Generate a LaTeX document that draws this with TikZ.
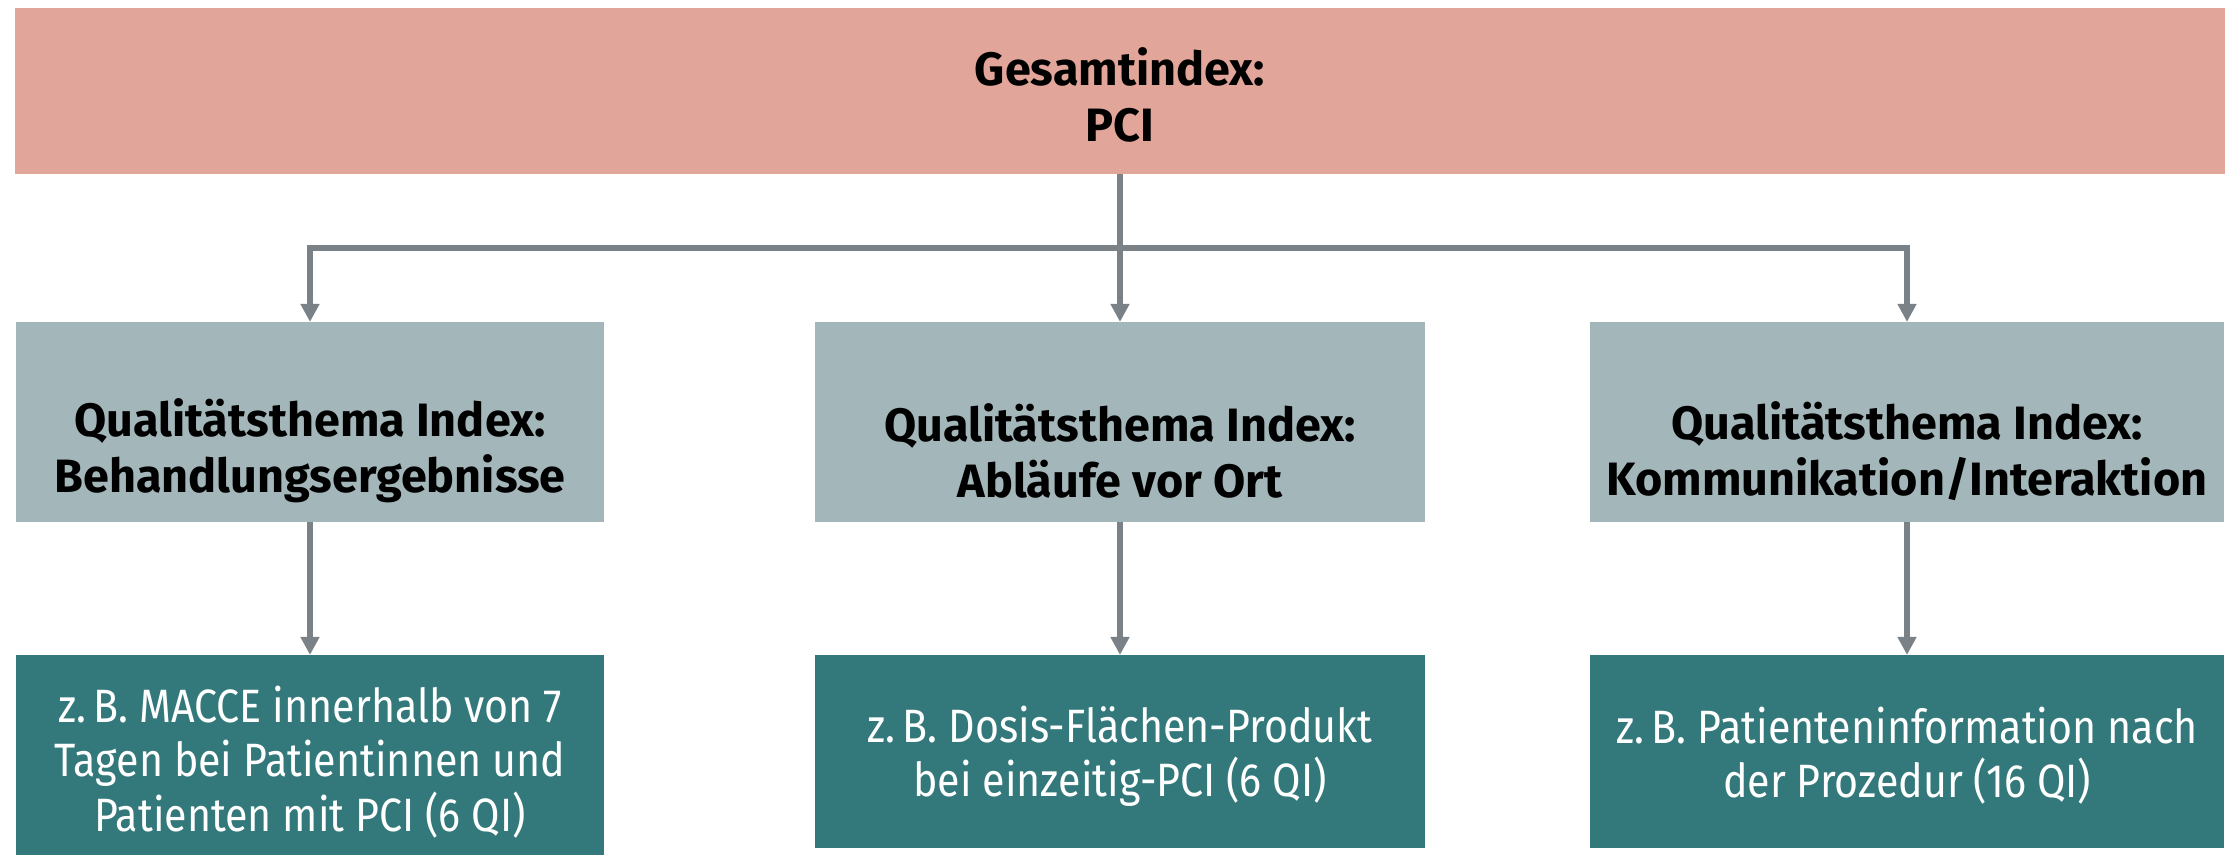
\documentclass[tikz,border=0pt]{standalone}
\usepackage{fontspec}
\setmainfont{Fira Sans}
\newfontfamily\bodyfont[FakeStretch=0.88]{Fira Sans}
\usetikzlibrary{arrows.meta}
\definecolor{salmon}{HTML}{E2A59A}
\definecolor{greyblue}{HTML}{A3B6B9}
\definecolor{teal}{HTML}{33797B}
\definecolor{linec}{HTML}{7A8288}
\tikzset{
  box/.style={draw=none, inner sep=0pt, outer sep=0pt},
  txt/.style={align=center, inner sep=0pt},
  htxt/.style={txt, font=\fontsize{13.3pt}{15.9pt}\selectfont\bfseries, text=black},
  btxt/.style={txt, font=\bodyfont\fontsize{13.3pt}{15.4pt}\selectfont, text=white},
  conn/.style={draw=linec, line width=0.06cm},
  arr/.style={conn, -{Triangle[width=0.18cm, length=0.18cm]}},
}
\begin{document}
\begin{tikzpicture}[x=0.01cm, y=-0.01cm]
\useasboundingbox (0,0) rectangle (2236,855);
% boxes
\node[box, fill=salmon, minimum width=22.08cm, minimum height=1.66cm] (topbox) at (1120,91) {};
\node[box, fill=greyblue, minimum width=5.88cm, minimum height=2.00cm] (m1) at (310,422) {};
\node[box, fill=greyblue, minimum width=6.10cm, minimum height=2.00cm] (m2) at (1120,422) {};
\node[box, fill=greyblue, minimum width=6.34cm, minimum height=2.00cm] (m3) at (1907,422) {};
\node[box, fill=teal, minimum width=5.88cm, minimum height=2.02cm] (b1) at (310,756) {};
\node[box, fill=teal, minimum width=6.10cm, minimum height=1.93cm] (b2) at (1120,751.5) {};
\node[box, fill=teal, minimum width=6.34cm, minimum height=1.93cm] (b3) at (1907,751.5) {};
% texts
\node[htxt] (t0) at (1120,95) {Gesamtindex:\\PCI};
\node[htxt] (t1) at (310,451) {Qualitätsthema Index:\\Behandlungsergebnisse};
\node[htxt] (t2) at (1120,451) {Qualitätsthema Index:\\Abläufe vor Ort};
\node[htxt] (t3) at (1907,451) {Qualitätsthema Index:\\Kommunikation/Interaktion};
\node[btxt] (u1) at (310,762) {z.\,B. MACCE innerhalb von 7\\Tagen bei Patientinnen und\\Patienten mit PCI (6 QI)};
\node[btxt] (u2) at (1120,756) {z.\,B. Dosis-Flächen-Produkt\\bei einzeitig-PCI (6 QI)};
\node[btxt] (u3) at (1907,756) {z.\,B. Patienteninformation nach\\der Prozedur (16 QI)};
% connectors
\coordinate (hy) at (0,248);
\draw[conn, line cap=rect] (m1.north |- hy) -- (m3.north |- hy);
\draw[arr] (topbox.south) -- (m2.north);
\draw[arr] (m1.north |- hy) -- (m1.north);
\draw[arr] (m3.north |- hy) -- (m3.north);
\draw[arr] (m1.south) -- (b1.north);
\draw[arr] (m2.south) -- (b2.north);
\draw[arr] (m3.south) -- (b3.north);
\end{tikzpicture}
\end{document}
